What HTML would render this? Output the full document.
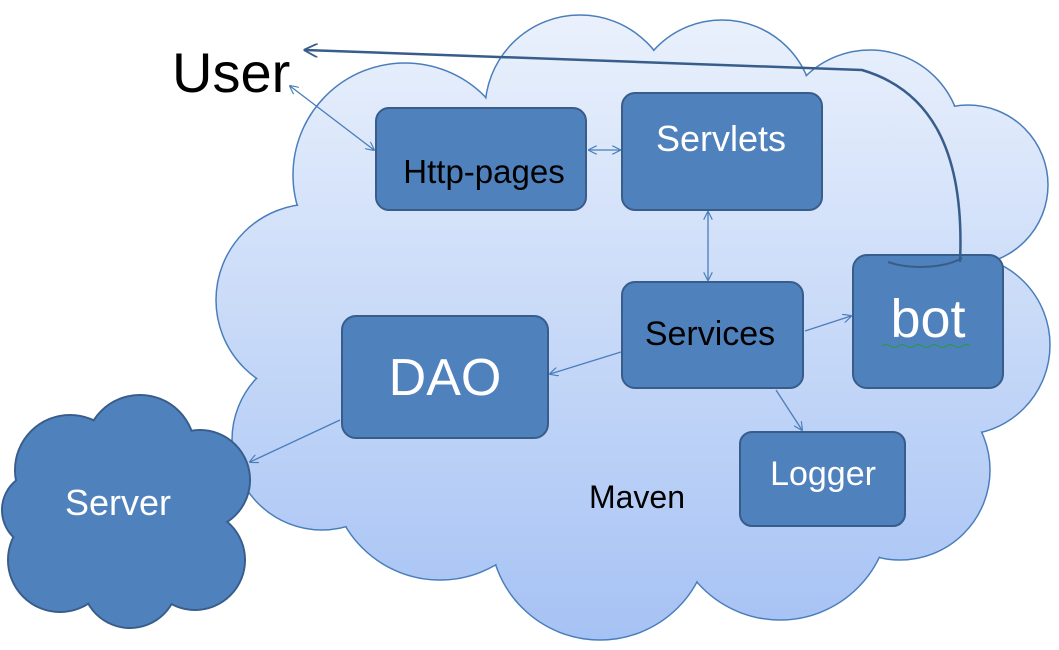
<!DOCTYPE html>
<html><head><meta charset="utf-8"><style>
html,body{margin:0;padding:0;background:#fff;}
svg{display:block;}
text{font-family:"Liberation Sans",sans-serif;}
</style></head><body>
<svg width="1059" height="650" viewBox="0 0 1059 650" xmlns="http://www.w3.org/2000/svg">
<defs>
<linearGradient id="g" gradientUnits="userSpaceOnUse" x1="0" y1="15" x2="0" y2="640">
<stop offset="0" stop-color="#eaf1fc"/><stop offset="1" stop-color="#a6c2f4"/>
</linearGradient>
<marker id="a" viewBox="0 0 10 10" refX="9" refY="5" markerWidth="9" markerHeight="9" orient="auto-start-reverse" markerUnits="userSpaceOnUse">
<path d="M0,0 L10,5 L0,10" fill="none" stroke="#4a7ebb" stroke-width="1.3"/>
</marker>
<marker id="b" viewBox="0 0 10 10" refX="9" refY="5" markerWidth="14" markerHeight="14" orient="auto" markerUnits="userSpaceOnUse">
<path d="M0,0 L10,5 L0,10" fill="none" stroke="#385d8a" stroke-width="1.3"/>
</marker>
</defs>
<g stroke="#4a7ebb" stroke-width="1.5" fill="url(#g)">
<circle cx="405" cy="175" r="112"/>
<circle cx="580" cy="110" r="95"/>
<circle cx="722" cy="112" r="92"/>
<circle cx="870" cy="142" r="92"/>
<circle cx="968" cy="185" r="80"/>
<circle cx="960" cy="345" r="90"/>
<circle cx="900" cy="470" r="90"/>
<circle cx="780" cy="510" r="110"/>
<circle cx="600" cy="530" r="110"/>
<circle cx="440" cy="470" r="110"/>
<circle cx="322" cy="440" r="90"/>
<circle cx="312" cy="300" r="96"/>
</g>
<g fill="url(#g)">
<circle cx="405" cy="175" r="111"/>
<circle cx="580" cy="110" r="94"/>
<circle cx="722" cy="112" r="91"/>
<circle cx="870" cy="142" r="91"/>
<circle cx="968" cy="185" r="79"/>
<circle cx="960" cy="345" r="89"/>
<circle cx="900" cy="470" r="89"/>
<circle cx="780" cy="510" r="109"/>
<circle cx="600" cy="530" r="109"/>
<circle cx="440" cy="470" r="109"/>
<circle cx="322" cy="440" r="89"/>
<circle cx="312" cy="300" r="95"/>
<circle cx="630" cy="330" r="250"/>
<circle cx="905" cy="215" r="70"/>
</g>
<g stroke="#385d8a" stroke-width="2" fill="#4f81bd">
<circle cx="70" cy="470" r="55"/><circle cx="140" cy="450" r="55"/><circle cx="200" cy="480" r="50"/>
<circle cx="195" cy="560" r="50"/><circle cx="130" cy="580" r="48"/><circle cx="60" cy="560" r="52"/>
<circle cx="40" cy="510" r="38"/>
</g>
<g fill="#4f81bd">
<circle cx="70" cy="470" r="54"/><circle cx="140" cy="450" r="54"/><circle cx="200" cy="480" r="49"/>
<circle cx="195" cy="560" r="49"/><circle cx="130" cy="580" r="47"/><circle cx="60" cy="560" r="51"/>
<circle cx="40" cy="510" r="37"/><circle cx="125" cy="515" r="80"/>
</g>
<text x="118" y="515" font-size="36" fill="#fff" text-anchor="middle">Server</text>
<g fill="#4f81bd" stroke="#385d8a" stroke-width="2">
<rect x="376" y="108" width="210" height="102" rx="13"/>
<rect x="622" y="93" width="200" height="117" rx="13"/>
<rect x="622" y="282" width="181" height="106" rx="13"/>
<rect x="342" y="316" width="206" height="122" rx="14"/>
<rect x="853" y="255" width="150" height="133" rx="14"/>
<rect x="740" y="432" width="165" height="94" rx="12"/>
</g>
<text x="484" y="183" font-size="33" fill="#000" text-anchor="middle">Http-pages</text>
<text x="721" y="151" font-size="36" fill="#fff" text-anchor="middle">Servlets</text>
<text x="710" y="345" font-size="34" fill="#000" text-anchor="middle">Services</text>
<text x="445" y="395" font-size="52" fill="#fff" text-anchor="middle">DAO</text>
<text x="928" y="337" font-size="54" fill="#fff" text-anchor="middle">bot</text>
<path d="M882,346 q4,-3 8,0 t8,0 t8,0 t8,0 t8,0 t8,0 t8,0 t8,0 t8,0 t8,0 t8,0" stroke="#2a9a3a" stroke-width="1" fill="none"/>
<text x="823" y="485" font-size="34" fill="#fff" text-anchor="middle">Logger</text>
<text x="637" y="508" font-size="32" fill="#000" text-anchor="middle">Maven</text>
<text x="172" y="92" font-size="56" fill="#000">User</text>
<g stroke="#4a7ebb" stroke-width="1.3" fill="none">
<line x1="290" y1="86" x2="374" y2="150" marker-start="url(#a)" marker-end="url(#a)"/>
<line x1="589" y1="150" x2="620" y2="150" marker-start="url(#a)" marker-end="url(#a)"/>
<line x1="708" y1="212" x2="708" y2="280" marker-start="url(#a)" marker-end="url(#a)"/>
<line x1="621" y1="352" x2="550" y2="374" marker-end="url(#a)"/>
<line x1="805" y1="331" x2="851" y2="316" marker-end="url(#a)"/>
<line x1="776" y1="390" x2="802" y2="430" marker-end="url(#a)"/>
<line x1="340" y1="420" x2="250" y2="462" marker-end="url(#a)"/>
</g>
<path d="M960,262 C965,150 930,90 862,70 L305,50" stroke="#385d8a" stroke-width="2.5" fill="none" marker-end="url(#b)"/>
<path d="M888,262 C910,270 945,268 962,258" stroke="#385d8a" stroke-width="2" fill="none"/>
</svg>
</body></html>
